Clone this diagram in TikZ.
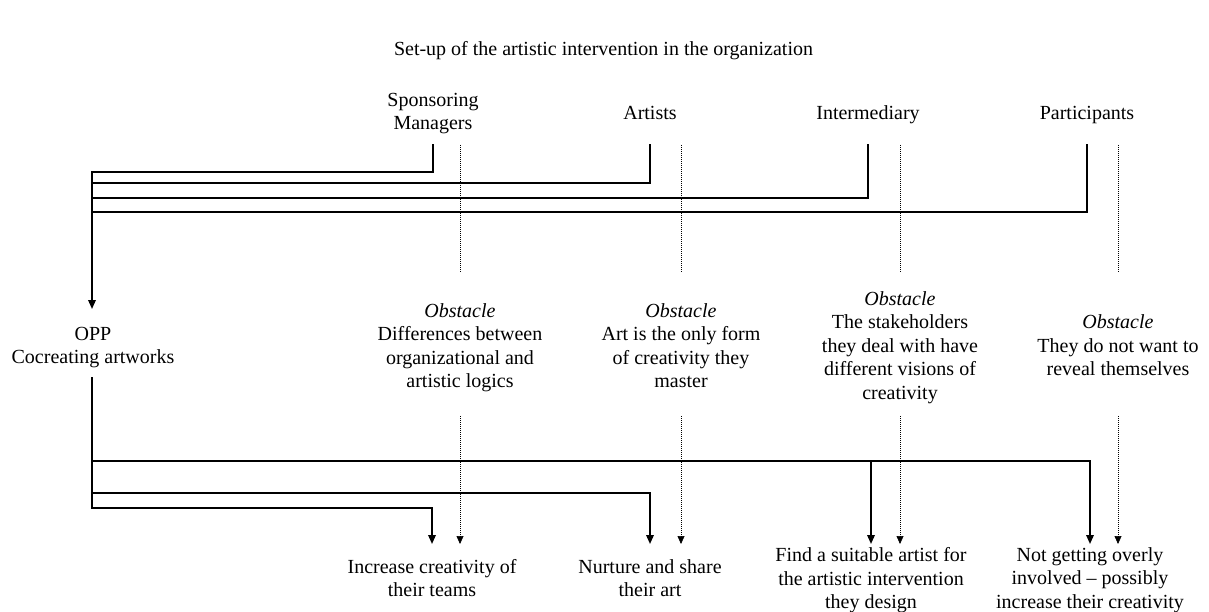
\documentclass[tikz,border=0pt]{standalone}
\usepackage{fontspec}
\setmainfont{Liberation Serif}
\usetikzlibrary{arrows.meta}
\begin{document}
\begin{tikzpicture}[x=1pt,y=-1pt,
  txt/.style={inner sep=0pt,align=center,font=\fontsize{20}{23.5}\selectfont,
    yshift=-3pt, execute at begin node=\strut, execute at end node=\strut},
  conn/.style={line width=1.7pt,line cap=rect},
  arr/.style={conn,-{Triangle[length=9pt,width=7.5pt]}},
  dot/.style={line width=0.6pt,dash pattern=on 1pt off 1pt},
  dotarr/.style={dot,-{Triangle[length=8pt,width=7pt]}}]
\useasboundingbox (0,0) rectangle (1209,612);
% title
\node[txt] (title) at (603.5,48) {Set-up of the artistic intervention in the organization};
% actors
\node[txt] (sm) at (433,112) {Sponsoring\\Managers};
\node[txt] (ar) at (650,112) {Artists};
\node[txt] (im) at (868,112) {Intermediary};
\node[txt] (pa) at (1087,112) {Participants};
% OPP
\node[txt] (opp) at (93,346) {OPP\\Cocreating artworks};
% obstacles
\node[txt] (ob1) at (460,346) {\textit{Obstacle}\\Differences between\\organizational and\\artistic logics};
\node[txt] (ob2) at (681,346) {\textit{Obstacle}\\Art is the only form\\of creativity they\\master};
\node[txt] (ob3) at (900,346) {\textit{Obstacle}\\The stakeholders\\they deal with have\\different visions of\\creativity};
\node[txt] (ob4) at (1118,346) {\textit{Obstacle}\\They do not want to\\reveal themselves};
% outcomes
\node[txt] (o1) at (432,578.5) {Increase creativity of\\their teams};
\node[txt] (o2) at (650,578.5) {Nurture and share\\their art};
\node[txt] (o3) at (871,578.5) {Find a suitable artist for\\the artistic intervention\\they design};
\node[txt] (o4) at (1090,578.5) {Not getting overly\\involved -- possibly\\increase their creativity};
% helper coordinates
\coordinate (ttop) at (0,145);
\coordinate (tbot) at (0,273);
\coordinate (h1) at (0,172);
\coordinate (h2) at (0,183);
\coordinate (h3) at (0,198);
\coordinate (h4) at (0,212);
\coordinate (oppin) at (92,309);
\coordinate (oppout) at (92,378);
\coordinate (b1) at (0,461);
\coordinate (b2) at (0,493);
\coordinate (b3) at (0,508);
\coordinate (dtop) at (0,416);
\coordinate (tip) at (0,544);
\coordinate (spine) at (92,0);
% top connectors
\draw[conn] (sm |- ttop) -- (sm |- h1) -- (spine |- h1);
\draw[conn] (ar |- ttop) -- (ar |- h2) -- (spine |- h2);
\draw[conn] (im |- ttop) -- (im |- h3) -- (spine |- h3);
\draw[conn] (pa |- ttop) -- (pa |- h4) -- (spine |- h4);
\draw[arr] (spine |- h1) -- (oppin);
% top dotted
\draw[dot] (ob1 |- ttop) -- (ob1 |- tbot);
\draw[dot] (ob2 |- ttop) -- (ob2 |- tbot);
\draw[dot] (ob3 |- ttop) -- (ob3 |- tbot);
\draw[dot] (ob4 |- ttop) -- (ob4 |- tbot);
% bottom connectors
\draw[conn] (oppout) -- (spine |- b3);
\draw[arr] (spine |- b1) -- (o4 |- b1) -- (o4 |- tip);
\draw[arr] (o3 |- b1) -- (o3 |- tip);
\draw[arr] (spine |- b2) -- (o2 |- b2) -- (o2 |- tip);
\draw[arr] (spine |- b3) -- (o1 |- b3) -- (o1 |- tip);
% bottom dotted
\draw[dotarr] (ob1 |- dtop) -- (ob1 |- tip);
\draw[dotarr] (ob2 |- dtop) -- (ob2 |- tip);
\draw[dotarr] (ob3 |- dtop) -- (ob3 |- tip);
\draw[dotarr] (ob4 |- dtop) -- (ob4 |- tip);
\end{tikzpicture}
\end{document}
